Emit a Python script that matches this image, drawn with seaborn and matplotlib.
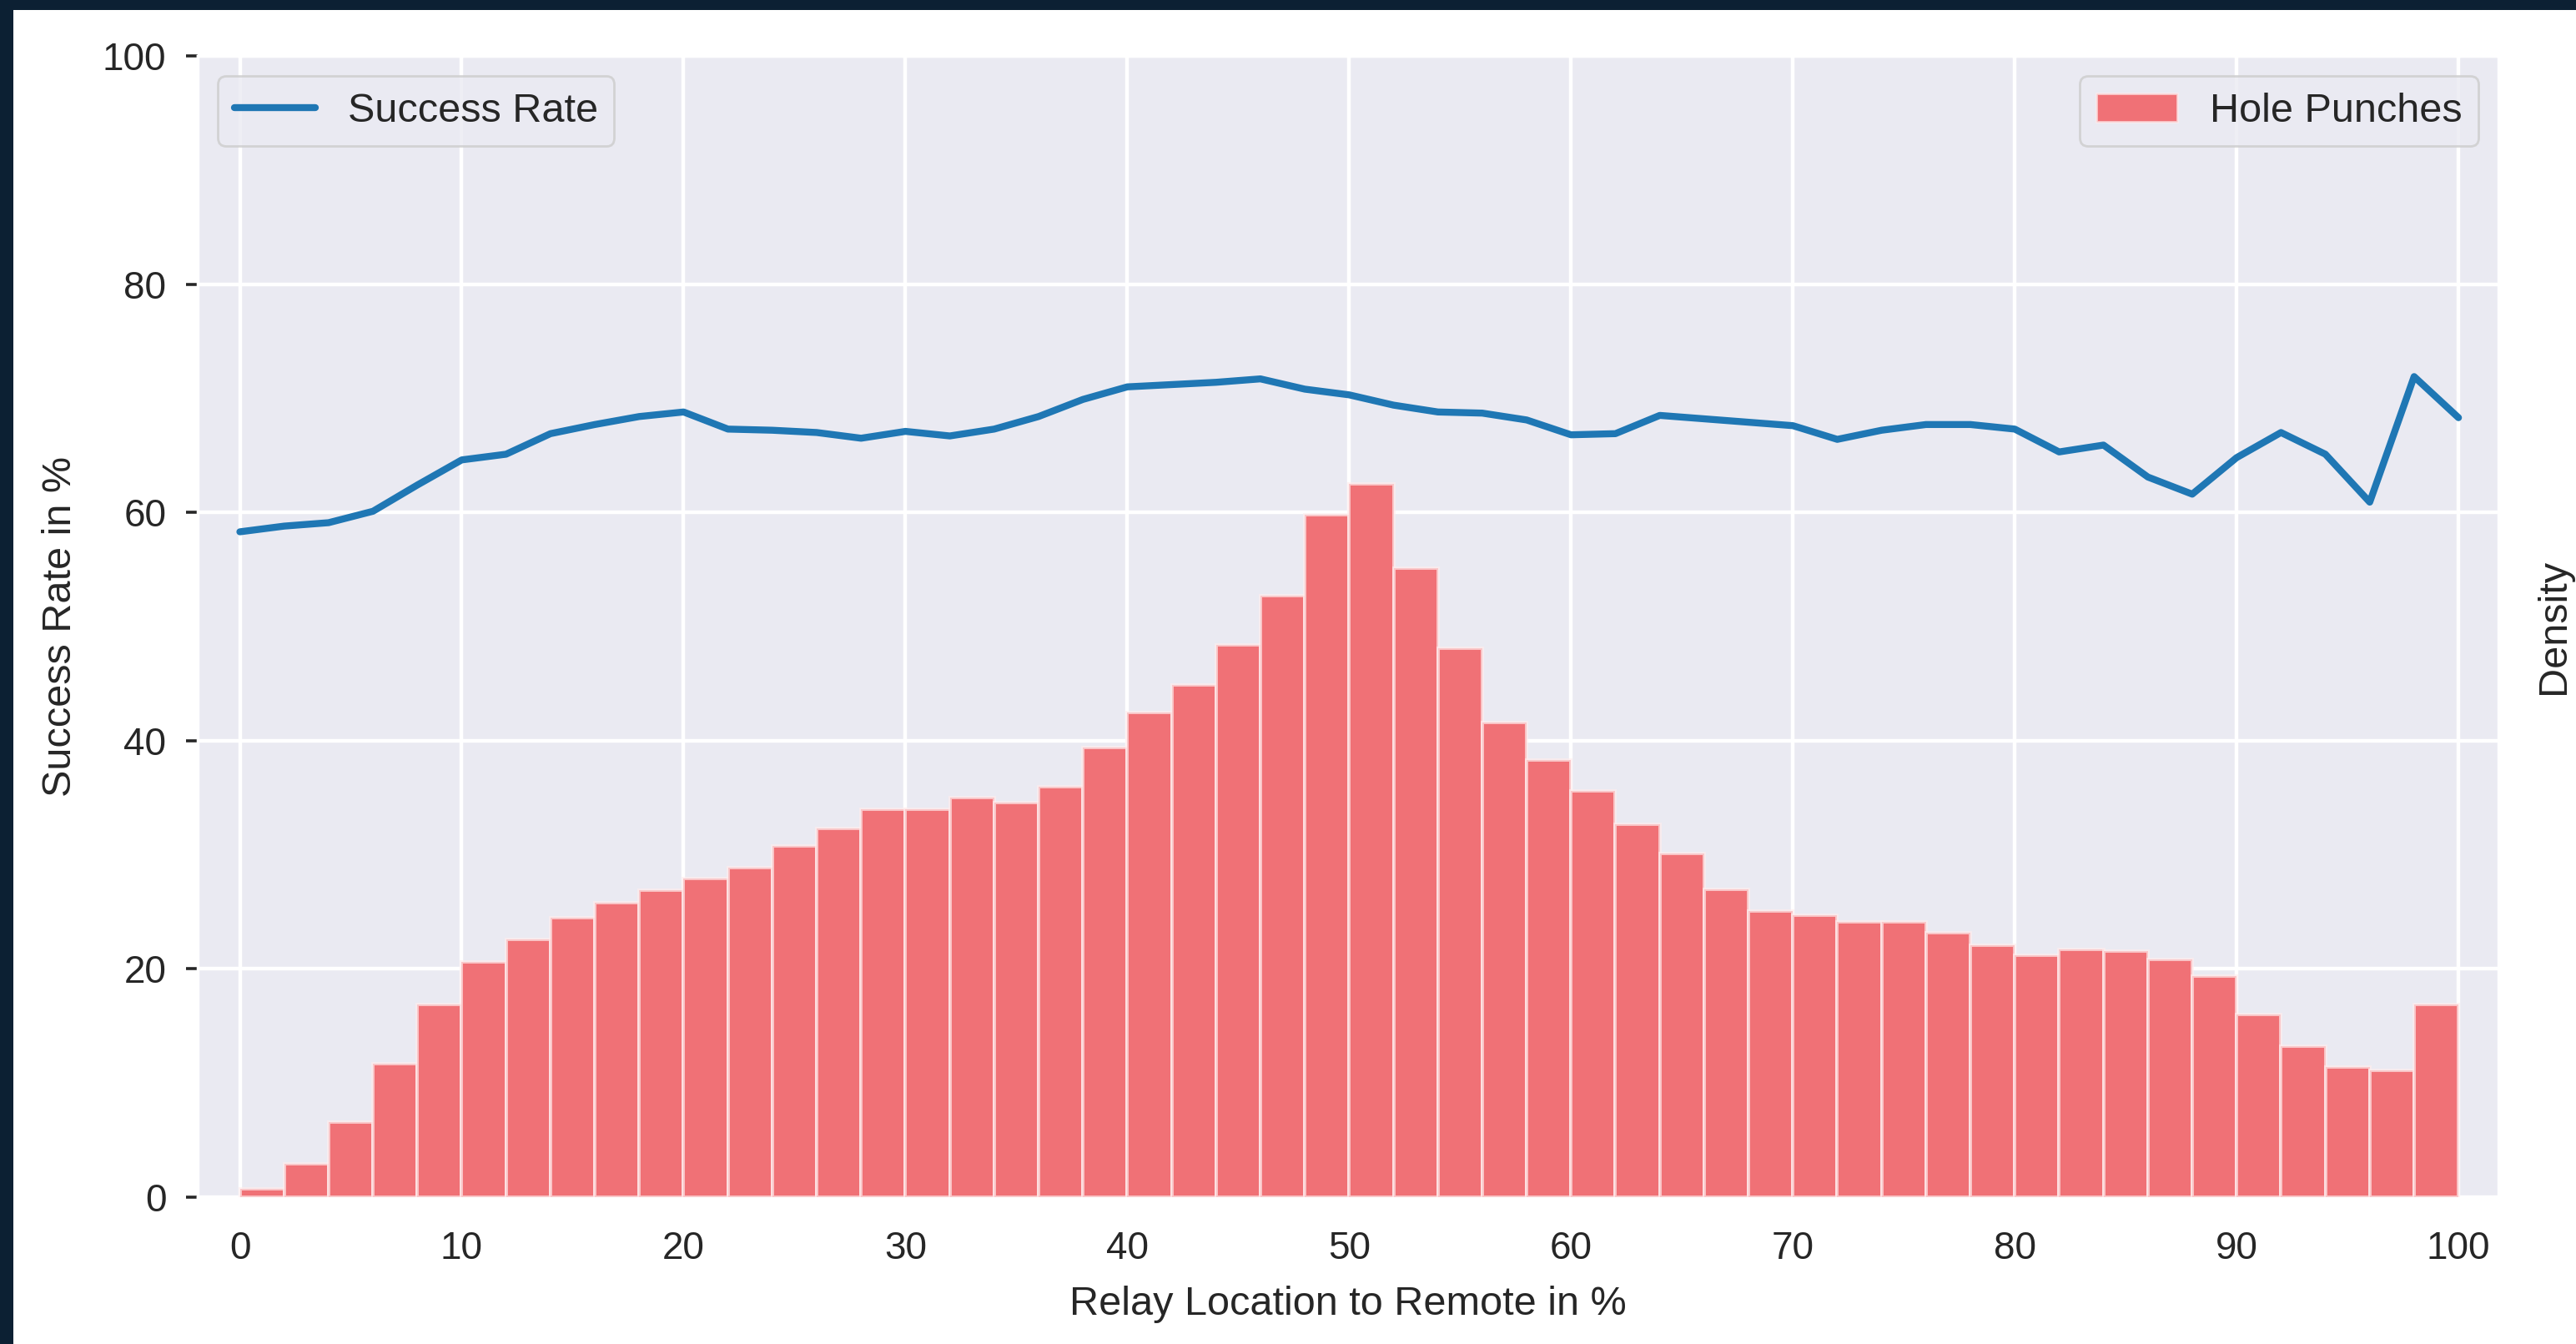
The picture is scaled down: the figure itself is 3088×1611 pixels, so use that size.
import matplotlib
matplotlib.use("Agg")
import numpy as np
import pandas as pd
import matplotlib.pyplot as plt
from matplotlib.patches import Patch, Rectangle
import seaborn as sns

# Success rate per relay position (x in %, step 2)
relay_pos = list(range(0, 101, 2))
success_rate = [58.3, 58.8, 59.1, 60.1, 62.4, 64.6, 65.1, 66.9, 67.7, 68.4,
                68.8, 67.3, 67.2, 67.0, 66.5, 67.1, 66.7, 67.3, 68.4, 69.9,
                71.0, 71.2, 71.4, 71.7, 70.8, 70.3, 69.4, 68.8, 68.7, 68.1,
                66.8, 66.9, 68.5, 68.2, 67.9, 67.6, 66.4, 67.2, 67.7, 67.7,
                67.3, 65.3, 65.9, 63.1, 61.6, 64.8, 67.0, 65.1, 60.9, 71.9,
                68.3]

# Hole punch histogram: bin edges and bar heights
bin_edges = list(range(0, 101, 2))
punch_heights = [0.7, 2.9, 6.6, 11.7, 16.9, 20.6, 22.6, 24.5, 25.8, 26.9,
                 27.9, 28.9, 30.8, 32.3, 34.0, 34.0, 35.0, 34.6, 36.0, 39.4,
                 42.5, 44.9, 48.4, 52.7, 59.8, 62.5, 55.1, 48.1, 41.6, 38.3,
                 35.6, 32.7, 30.1, 27.0, 25.1, 24.7, 24.1, 24.1, 23.2, 22.1,
                 21.2, 21.7, 21.6, 20.8, 19.4, 16.0, 13.2, 11.4, 11.1, 16.9]

x_ticks = [0, 10, 20, 30, 40, 50, 60, 70, 80, 90, 100]
y_ticks = [0, 20, 40, 60, 80, 100]

line_df = pd.DataFrame({"pos": relay_pos, "rate": success_rate})
centers = [(a + b) / 2 for a, b in zip(bin_edges[:-1], bin_edges[1:])]
hist_df = pd.DataFrame({"pos": centers, "h": punch_heights})

sns.set_theme(style="darkgrid")
plt.rcParams["font.family"] = ["Liberation Sans", "DejaVu Sans"]
plt.rcParams["text.color"] = ".15"
plt.rcParams["axes.labelcolor"] = ".15"
plt.rcParams["xtick.color"] = ".15"
plt.rcParams["ytick.color"] = ".15"

DPI = 200
fig = plt.figure(figsize=(3088 / DPI, 1611 / DPI), dpi=DPI)
ax = fig.add_axes([237 / 3088, 1 - 1435 / 1611, (2995 - 237) / 3088, (1435 - 67) / 1611])
ax.grid(True, color="white", linewidth=1.6)

line_color = "#1f77b4"
bar_color = "#f07176"

sns.lineplot(data=line_df, x="pos", y="rate", ax=ax, color=line_color,
             linewidth=3.0, label="Success Rate")

ax2 = ax.twinx()
sns.histplot(data=hist_df, x="pos", weights="h", bins=bin_edges, ax=ax2,
             color=bar_color, alpha=1.0, edgecolor=(1, 0.93, 0.93, 0.7), linewidth=1.4)
ax2.grid(False)
ax2.set_ylim(0, 100)
ax2.set_yticks([])
ax2.set_ylabel("Density", fontsize=17.5, labelpad=16)
for s in ax2.spines.values():
    s.set_visible(False)

ax.set_xlim(-1.9, 101.8)
ax.set_ylim(0, 100)
ax.set_xticks(x_ticks)
ax.set_yticks(y_ticks)
ax.tick_params(axis="y", left=True, length=5, width=1.3, pad=8.5, labelsize=16.5)
ax.tick_params(axis="x", bottom=False, length=5, pad=9.5, labelsize=16.5)
ax.set_xlabel("Relay Location to Remote in %", fontsize=17.5, labelpad=8)
ax.set_ylabel("Success Rate in %", fontsize=17.5, labelpad=10)

ax.legend(loc="upper left", fontsize=17.5)
ax2.legend(handles=[Patch(facecolor=bar_color, edgecolor=(1, 0.93, 0.93, 0.7))],
           labels=["Hole Punches"], loc="upper right", fontsize=17.5)

# dark frame along the top and left edges
frame_color = "#0c2033"
fig.add_artist(Rectangle((0, 0), 16 / 3088, 1, transform=fig.transFigure,
                         facecolor=frame_color, edgecolor="none", zorder=10))
fig.add_artist(Rectangle((0, 1 - 12 / 1611), 1, 12 / 1611, transform=fig.transFigure,
                         facecolor=frame_color, edgecolor="none", zorder=10))

fig.savefig("out.png", dpi=DPI)
